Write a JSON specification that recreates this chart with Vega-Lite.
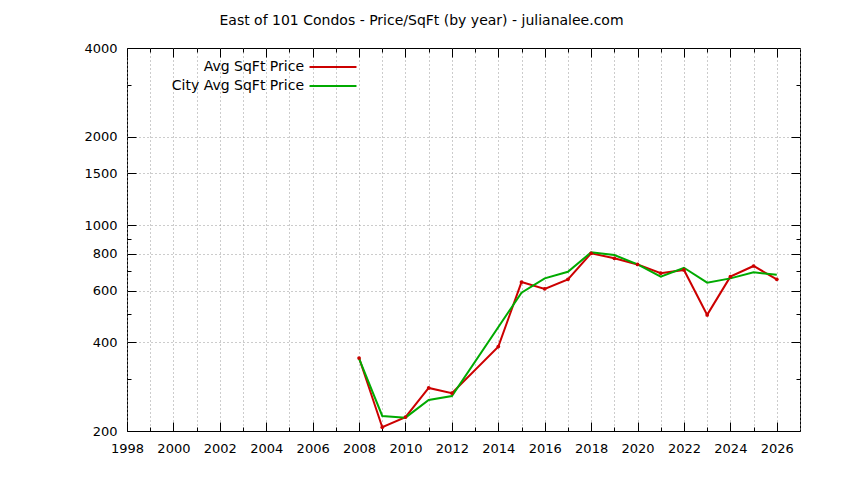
{
  "$schema": "https://vega.github.io/schema/vega-lite/v6.json",
  "width": 673,
  "height": 383,
  "autosize": "none",
  "padding": {"left": 127, "top": 48, "right": 44, "bottom": 49},
  "background": "white",
  "title": {
    "text": "East of 101 Condos - Price/SqFt (by year) - julianalee.com",
    "font": "DejaVu Sans",
    "fontSize": 14,
    "fontWeight": "normal",
    "color": "black",
    "anchor": "middle",
    "dx": -42,
    "offset": 14
  },
  "config": {
    "view": {"stroke": "black", "strokeWidth": 1},
    "axis": {
      "domain": false,
      "title": null,
      "labelFont": "DejaVu Sans",
      "labelFontSize": 13,
      "labelColor": "black",
      "tickColor": "black",
      "tickWidth": 1,
      "gridColor": "#999999",
      "gridDash": [1, 3],
      "gridWidth": 1
    },
    "legend": {
      "labelFont": "DejaVu Sans",
      "labelFontSize": 14,
      "labelColor": "black"
    }
  },
  "data": {
    "values": [
      {"year": 2008, "series": "Avg SqFt Price", "price": 354},
      {"year": 2009, "series": "Avg SqFt Price", "price": 206},
      {"year": 2010, "series": "Avg SqFt Price", "price": 223},
      {"year": 2011, "series": "Avg SqFt Price", "price": 280},
      {"year": 2012, "series": "Avg SqFt Price", "price": 269},
      {"year": 2014, "series": "Avg SqFt Price", "price": 387},
      {"year": 2015, "series": "Avg SqFt Price", "price": 641},
      {"year": 2016, "series": "Avg SqFt Price", "price": 608},
      {"year": 2017, "series": "Avg SqFt Price", "price": 655},
      {"year": 2018, "series": "Avg SqFt Price", "price": 803},
      {"year": 2019, "series": "Avg SqFt Price", "price": 772},
      {"year": 2020, "series": "Avg SqFt Price", "price": 736},
      {"year": 2021, "series": "Avg SqFt Price", "price": 687},
      {"year": 2022, "series": "Avg SqFt Price", "price": 705},
      {"year": 2023, "series": "Avg SqFt Price", "price": 496},
      {"year": 2024, "series": "Avg SqFt Price", "price": 669},
      {"year": 2025, "series": "Avg SqFt Price", "price": 727},
      {"year": 2026, "series": "Avg SqFt Price", "price": 655},
      {"year": 2008, "series": "City Avg SqFt Price", "price": 352},
      {"year": 2009, "series": "City Avg SqFt Price", "price": 225},
      {"year": 2010, "series": "City Avg SqFt Price", "price": 222},
      {"year": 2011, "series": "City Avg SqFt Price", "price": 255},
      {"year": 2012, "series": "City Avg SqFt Price", "price": 263},
      {"year": 2015, "series": "City Avg SqFt Price", "price": 590},
      {"year": 2016, "series": "City Avg SqFt Price", "price": 660},
      {"year": 2017, "series": "City Avg SqFt Price", "price": 695},
      {"year": 2018, "series": "City Avg SqFt Price", "price": 809},
      {"year": 2019, "series": "City Avg SqFt Price", "price": 792},
      {"year": 2020, "series": "City Avg SqFt Price", "price": 736},
      {"year": 2021, "series": "City Avg SqFt Price", "price": 669},
      {"year": 2022, "series": "City Avg SqFt Price", "price": 717},
      {"year": 2023, "series": "City Avg SqFt Price", "price": 638},
      {"year": 2024, "series": "City Avg SqFt Price", "price": 660},
      {"year": 2025, "series": "City Avg SqFt Price", "price": 692},
      {"year": 2026, "series": "City Avg SqFt Price", "price": 679}
    ]
  },
  "layer": [
    {
      "mark": {"type": "point", "opacity": 0},
      "encoding": {
        "x": {
          "field": "year",
          "type": "quantitative",
          "scale": {"domain": [1998, 2027], "nice": false, "zero": false},
          "axis": {
            "values": [1998, 1999, 2000, 2001, 2002, 2003, 2004, 2005, 2006, 2007, 2008, 2009, 2010, 2011, 2012, 2013, 2014, 2015, 2016, 2017, 2018, 2019, 2020, 2021, 2022, 2023, 2024, 2025, 2026, 2027],
            "labels": false,
            "ticks": false,
            "grid": true
          }
        },
        "y": {
          "field": "price",
          "type": "quantitative",
          "scale": {"type": "log", "domain": [200, 4000], "nice": false},
          "axis": {
            "values": [400, 600, 800, 1000, 1500, 2000],
            "labels": false,
            "ticks": false,
            "grid": true
          }
        }
      }
    },
    {
      "mark": {"type": "point", "opacity": 0},
      "encoding": {
        "x": {
          "field": "year",
          "type": "quantitative",
          "axis": {
            "orient": "bottom",
            "values": [1999, 2001, 2003, 2005, 2007, 2009, 2011, 2013, 2015, 2017, 2019, 2021, 2023, 2025],
            "labels": false,
            "grid": false,
            "tickSize": -4
          }
        },
        "y": {
          "field": "price",
          "type": "quantitative",
          "axis": {
            "orient": "left",
            "values": [300, 500, 700, 900, 3000],
            "labels": false,
            "grid": false,
            "tickSize": -4
          }
        }
      }
    },
    {
      "mark": {"type": "point", "opacity": 0},
      "encoding": {
        "x": {
          "field": "year",
          "type": "quantitative",
          "axis": {
            "orient": "top",
            "values": [1999, 2001, 2003, 2005, 2007, 2009, 2011, 2013, 2015, 2017, 2019, 2021, 2023, 2025],
            "labels": false,
            "grid": false,
            "tickSize": -4
          }
        },
        "y": {
          "field": "price",
          "type": "quantitative",
          "axis": {
            "orient": "right",
            "values": [300, 500, 700, 900, 3000],
            "labels": false,
            "grid": false,
            "tickSize": -4
          }
        }
      }
    },
    {
      "mark": {"type": "line", "strokeWidth": 2},
      "encoding": {
        "x": {
          "field": "year",
          "type": "quantitative",
          "axis": {
            "orient": "bottom",
            "values": [1998, 2000, 2002, 2004, 2006, 2008, 2010, 2012, 2014, 2016, 2018, 2020, 2022, 2024, 2026],
            "format": "d",
            "offset": -9,
            "tickSize": 9,
            "labelPadding": 11,
            "labelFlush": false,
            "labelOverlap": false,
            "grid": false
          }
        },
        "y": {
          "field": "price",
          "type": "quantitative",
          "axis": {
            "orient": "left",
            "values": [200, 400, 600, 800, 1000, 1500, 2000, 4000],
            "format": "d",
            "labelPadding": 19,
            "labelFlush": false,
            "labelOverlap": false,
            "grid": false,
            "tickSize": -9
          }
        },
        "color": {
          "field": "series",
          "type": "nominal",
          "scale": {"domain": ["Avg SqFt Price", "City Avg SqFt Price"], "range": ["#cc0000", "#00aa00"]},
          "legend": {
            "title": null,
            "orient": "none",
            "legendX": 197,
            "legendY": 10,
            "symbolType": "M-3,0H3",
            "symbolSize": 245,
            "symbolStrokeWidth": 2,
            "labelAlign": "right",
            "labelOffset": -38,
            "rowPadding": 3,
            "padding": 0
          }
        }
      }
    },
    {
      "transform": [{"filter": "datum.series == 'Avg SqFt Price'"}],
      "mark": {"type": "point", "filled": true, "size": 14, "color": "#cc0000", "opacity": 1},
      "encoding": {
        "x": {
          "field": "year",
          "type": "quantitative",
          "axis": {
            "orient": "top",
            "values": [1998, 2000, 2002, 2004, 2006, 2008, 2010, 2012, 2014, 2016, 2018, 2020, 2022, 2024, 2026],
            "labels": false,
            "grid": false,
            "tickSize": -9
          }
        },
        "y": {
          "field": "price",
          "type": "quantitative",
          "axis": {
            "orient": "right",
            "values": [200, 400, 600, 800, 1000, 1500, 2000, 4000],
            "labels": false,
            "grid": false,
            "tickSize": -9
          }
        }
      }
    }
  ],
  "resolve": {"axis": {"x": "independent", "y": "independent"}}
}
